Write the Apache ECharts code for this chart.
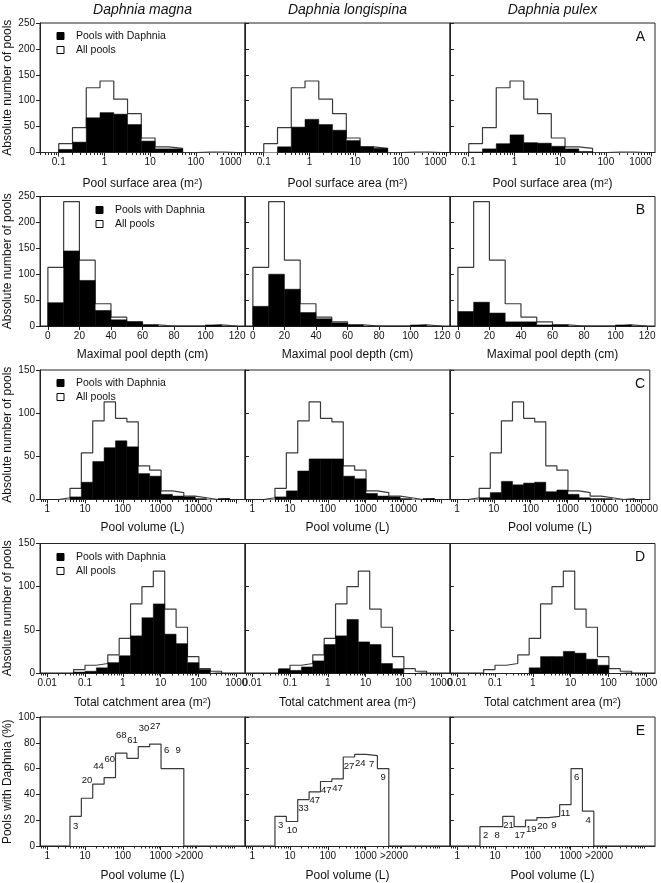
<!DOCTYPE html>
<html><head><meta charset="utf-8">
<script src="https://cdn.jsdelivr.net/npm/echarts@6/dist/echarts.min.js"></script>
<style>html,body{margin:0;padding:0;background:#fff}#c{width:661px;height:883px}</style>
</head><body><div id="c"></div><script>
// ---------------- DATA ----------------
const species = ['Daphnia magna', 'Daphnia longispina', 'Daphnia pulex'];
const panelLetters = ['A', 'B', 'C', 'D', 'E'];

// A: pool surface area (m2), doubling bins
const areaEdges = [0.05,0.1,0.2,0.4,0.8,1.6,3.2,6.4,12.8,25.6,51.2,102.4,204.8,409.6,819.2];
const areaAll        = [0,17,48,125,138,103,75,28,11,8,0,1,1,0];
const areaMagna      = [0,6,20,67,77,74,54,22,7,7,0,0,0,0];
const areaLongispina = [0,0,11,49,64,54,43,23,11,8,0,0,0,0];
const areaPulex      = [0,1,7,17,34,19,18,12,7,2,0,0,0,0];
const areaTicks = [0.1,1,10,100,1000];
const areaTickLabels = ['0.1','1','10','100','1000'];

// B: maximal pool depth (cm)
const depthEdges = [0,10,20,30,40,50,60,70,80,90,100,110,120];
const depthAll        = [113,240,127,43,17,8,2,0,0,0,2,0];
const depthMagna      = [45,145,88,30,12,8,2,0,0,0,2,0];
const depthLongispina = [38,100,71,26,14,6,2,0,0,0,2,0];
const depthPulex      = [28,46,25,8,8,2,2,0,0,0,2,0];
const depthTicks = [0,20,40,60,80,100,120];
const depthTickLabels = ['0','20','40','60','80','100','120'];

// C: pool volume (L)
const volEdges = [2,4,8,16,32,64,128,256,512,1024,2048,4096,8192,16384,32768,65536];
const volAll        = [2,13,54,91,113,94,90,39,34,10,8,4,2,0,1];
const volMagna      = [0,3,20,44,60,68,61,30,27,6,4,3,1,0,1];
const volLongispina = [0,3,10,33,47,47,47,27,24,7,4,3,1,0,1];
const volPulex      = [0,2,8,21,17,19,20,9,11,6,2,1,1,0,0];
const volTicks = [1,10,100,1000,10000,100000];
const volTickLabels = ['1','10','100','1000','10000','100000'];

// D: total catchment area (m2)
const catchEdges = [0.05,0.1,0.2,0.4,0.8,1.6,3.2,6.4,12.8,25.6,51.2,102.4,204.8,409.6];
const catchAll        = [4,9,11,21,40,80,100,118,74,53,19,5,2];
const catchMagna      = [1,2,6,12,20,43,64,80,45,34,12,4,0];
const catchLongispina = [5,3,7,14,33,43,62,36,33,11,5,0,0];
const catchPulex      = [0,0,0,0,6,19,19,25,23,16,9,0,0];
const catchTicks = [0.01,0.1,1,10,100,1000];
const catchTickLabels = ['0.01','0.1','1','10','100','1000'];

// E: % pools with Daphnia per volume class, and number of pools with Daphnia
const pctEdges = [4,8,16,32,64,128,256,512,1024,2048,4096];
const pctMagna      = [23,37,48,53,72,68,77,79,60,60];
const pctLongispina = [23,19,36,42,50,52,69,71,70,60];
const pctPulex      = [15,15,23,15,20,22,23,32,60,27];
const nMagna      = [3,20,44,60,68,61,30,27,6,9];
const nLongispina = [3,10,33,47,47,47,27,24,7,9];
const nPulex      = [2,8,21,17,19,20,9,11,6,4];
const pctTicks = [1,10,100,1000,5600];
const pctTickLabels = ['1','10','100','1000','>2000'];

// ---------------- LAYOUT ----------------
const FONT = '"Liberation Sans", Arial, Helvetica, sans-serif';
const colLeft = [40, 245, 450], colW = 205;
const rowTop = [23, 196.5, 370, 543.5, 717], rowH = 129.5;
const INK = '#111';
// vertical pixel offset of the count labels in row E, per column (negative = above the step)
const countLabelOffset = [[10,-18,-18,-18,-18,-18,-18,-18,-18,-18], [9,9,9,9,9,9,9,9,9,9], [9,9,9,9,9,9,9,9,9,9]];

const rowsCfg = [
  {edges: areaEdges, all: areaAll, sp: [areaMagna, areaLongispina, areaPulex], log: true,
   range: [-1.41, 3.075], ticks: areaTicks, labels: areaTickLabels, labelN: [5,5,5], majorTickN: 5, alignMax: 'right',
   ymax: 250, ystep: 50, xTitle: 'Pool surface area (m{sup|2})', nameGap: 25, yTitle: 'Absolute number of pools', legend: [57, 36]},
  {edges: depthEdges, all: depthAll, sp: [depthMagna, depthLongispina, depthPulex], log: false,
   range: [-5, 125], ticks: depthTicks, labels: depthTickLabels, labelN: [7,7,7], majorTickN: 7, alignMax: 'center',
   ymax: 250, ystep: 50, xTitle: 'Maximal pool depth (cm)', nameGap: 23, yTitle: 'Absolute number of pools', legend: [96, 210]},
  {edges: volEdges, all: volAll, sp: [volMagna, volLongispina, volPulex], log: true,
   range: [-0.19, 5.23], ticks: volTicks, labels: volTickLabels, labelN: [5,5,6], majorTickN: 6, alignMax: 'center',
   ymax: 150, ystep: 50, xTitle: 'Pool volume (L)', nameGap: 22, yTitle: 'Absolute number of pools', legend: [57, 383]},
  {edges: catchEdges, all: catchAll, sp: [catchMagna, catchLongispina, catchPulex], log: true,
   range: [-2.19, 3.23], ticks: catchTicks, labels: catchTickLabels, labelN: [6,6,6], majorTickN: 6, alignMax: 'center',
   ymax: 150, ystep: 50, xTitle: 'Total catchment area (m{sup|2})', nameGap: 24, yTitle: 'Absolute number of pools', legend: [57, 557]},
  {edges: pctEdges, all: null, sp: [pctMagna, pctLongispina, pctPulex], counts: [nMagna, nLongispina, nPulex], log: true,
   range: [-0.19, 5.23], ticks: pctTicks, labels: pctTickLabels, labelN: [5,5,5], majorTickN: 4, alignMax: 'center',
   ymax: 100, ystep: 20, xTitle: 'Pool volume (L)', nameGap: 24, yTitle: 'Pools with Daphnia (%)', legend: null}
];

const grids = [], xAxes = [], yAxes = [], series = [], graphics = [];
const tf = (row, v) => row.log ? Math.log10(v) : v;

function minorTicks(row) {
  if (!row.log) return [];
  const out = [];
  for (let d = Math.floor(row.range[0]); d <= Math.ceil(row.range[1]); d++) {
    for (let k = 2; k <= 9; k++) {
      const v = Math.log10(k) + d;
      if (v > row.range[0] && v < row.range[1]) out.push(v);
    }
  }
  return out;
}

function stepPoints(row, vals) {
  const e = row.edges.map(v => tf(row, v));
  const pts = [[e[0], 0]];
  vals.forEach((v, i) => pts.push([e[i], v]));
  pts.push([e[vals.length], vals[vals.length - 1]]);
  pts.push([e[vals.length], 0]);
  return pts;
}

const textStyleBase = {fontFamily: FONT, color: INK};

rowsCfg.forEach((row, r) => {
  for (let c = 0; c < 3; c++) {
    const gi = grids.length;
    grids.push({left: colLeft[c], top: rowTop[r], width: colW, height: rowH,
      show: true, borderColor: '#222', borderWidth: 1, backgroundColor: 'transparent'});
    const tv = row.ticks.map(v => tf(row, v));
    const labVals = tv.slice(0, row.labelN[c]);
    const tickVals = tv.slice(0, row.majorTickN);
    const fmt = (v) => {
      const i = tv.findIndex(t => Math.abs(t - v) < 1e-6);
      return i >= 0 ? row.labels[i] : '';
    };
    const xiMajor = xAxes.length;
    xAxes.push({gridIndex: gi, type: 'value', min: row.range[0], max: row.range[1], position: 'bottom',
      axisLine: {show: true, onZero: false, lineStyle: {color: '#222', width: 1}},
      axisTick: {show: true, customValues: tickVals, length: 4, lineStyle: {color: '#222', width: 1}},
      axisLabel: {show: true, customValues: labVals, formatter: fmt, fontSize: 10, margin: 5, ...textStyleBase,
                  showMinLabel: true, showMaxLabel: true, hideOverlap: false, alignMaxLabel: row.alignMax},
      splitLine: {show: false},
      name: row.xTitle, nameLocation: 'middle', nameGap: row.nameGap,
      nameTextStyle: {fontSize: 12, ...textStyleBase, rich: {sup: {fontSize: 8, verticalAlign: 'top', fontFamily: FONT, color: INK}}}
    });
    const mt = minorTicks(row);
    if (mt.length) {
      xAxes.push({gridIndex: gi, type: 'value', min: row.range[0], max: row.range[1], position: 'bottom',
        axisLine: {show: false, onZero: false}, axisLabel: {show: false}, splitLine: {show: false},
        axisTick: {show: true, customValues: mt, length: 2.5, lineStyle: {color: '#222', width: 1}}});
    }
    const yi = yAxes.length;
    yAxes.push({gridIndex: gi, type: 'value', min: 0, max: row.ymax, interval: row.ystep, position: 'left',
      axisLine: {show: true, onZero: false, lineStyle: {color: '#222', width: 1}},
      axisTick: {show: true, inside: c > 0, length: 4, lineStyle: {color: '#222', width: 1}},
      axisLabel: {show: c === 0, fontSize: 10, margin: 5, ...textStyleBase},
      splitLine: {show: false}});

    // outline histogram (All pools, or % for row E)
    const outlineVals = row.all ? row.all : row.sp[c];
    series.push({type: 'line', xAxisIndex: xiMajor, yAxisIndex: yi, data: stepPoints(row, outlineVals),
      step: 'end', symbol: 'none', silent: true, animation: false, z: 2,
      lineStyle: {color: '#3a3a3a', width: 1.2}, areaStyle: {color: '#fff', opacity: 1}});

    if (row.all) {
      const vals = row.sp[c];
      const bars = [];
      vals.forEach((v, i) => { if (v > 0) bars.push([tf(row, row.edges[i]), tf(row, row.edges[i + 1]), v]); });
      series.push({type: 'custom', xAxisIndex: xiMajor, yAxisIndex: yi, data: bars, encode: {x: [0, 1], y: 2},
        silent: true, animation: false, z: 3,
        renderItem: (params, api) => {
          const p0 = api.coord([api.value(0), api.value(2)]);
          const p1 = api.coord([api.value(1), 0]);
          return {type: 'rect', shape: {x: p0[0], y: p0[1], width: p1[0] - p0[0], height: p1[1] - p0[1]},
                  style: {fill: '#000', stroke: '#000', lineWidth: 0.5}};
        }});
    } else {
      const vals = row.sp[c], ns = row.counts[c], offs = countLabelOffset[c];
      const labs = vals.map((v, i) => [(tf(row, row.edges[i]) + tf(row, row.edges[i + 1])) / 2, v, ns[i]]);
      series.push({type: 'custom', xAxisIndex: xiMajor, yAxisIndex: yi, data: labs, encode: {x: 0, y: 1},
        silent: true, animation: false, z: 4,
        renderItem: (params, api) => {
          const p = api.coord([api.value(0), api.value(1)]);
          return {type: 'text', x: p[0], y: p[1] + offs[params.dataIndex],
            style: {text: String(api.value(2)), font: '9.5px ' + FONT, fill: INK,
                    align: 'center', verticalAlign: 'middle', textAlign: 'center', textVerticalAlign: 'middle'}};
        }});
    }
  }
  // y-axis title (left of first column)
  graphics.push({type: 'text', x: 8, y: rowTop[r] + rowH / 2, rotation: Math.PI / 2,
    style: {text: row.yTitle, font: '12px ' + FONT, fill: INK,
      align: 'center', verticalAlign: 'middle', textAlign: 'center', textVerticalAlign: 'middle'}});
  // legend (first column)
  if (row.legend) {
    const [lx, ly] = row.legend;
    graphics.push({type: 'rect', shape: {x: lx, y: ly - 3.5, width: 7, height: 7}, style: {fill: '#000', stroke: '#000', lineWidth: 1}});
    graphics.push({type: 'rect', shape: {x: lx, y: ly + 14 - 3.5, width: 7, height: 7}, style: {fill: '#fff', stroke: '#000', lineWidth: 1}});
    graphics.push({type: 'text', x: lx + 19, y: ly, style: {text: 'Pools with Daphnia', font: '10.5px ' + FONT, fill: INK,
      align: 'left', verticalAlign: 'middle', textAlign: 'left', textVerticalAlign: 'middle'}});
    graphics.push({type: 'text', x: lx + 19, y: ly + 14, style: {text: 'All pools', font: '10.5px ' + FONT, fill: INK,
      align: 'left', verticalAlign: 'middle', textAlign: 'left', textVerticalAlign: 'middle'}});
  }
  // panel letter
  graphics.push({type: 'text', x: 645, y: rowTop[r] + 14, style: {text: panelLetters[r], font: '14px ' + FONT, fill: INK,
    align: 'right', verticalAlign: 'middle', textAlign: 'right', textVerticalAlign: 'middle'}});
});

species.forEach((s, c) => {
  graphics.push({type: 'text', x: colLeft[c] + colW / 2, y: 10, style: {text: s, font: 'italic 14px ' + FONT, fill: INK,
    align: 'center', verticalAlign: 'middle', textAlign: 'center', textVerticalAlign: 'middle'}});
});

const chart = echarts.init(document.getElementById('c'), null, {renderer: 'canvas', width: 661, height: 883});
chart.setOption({
  animation: false,
  backgroundColor: '#fff',
  grid: grids, xAxis: xAxes, yAxis: yAxes, series: series,
  graphic: {elements: graphics}
});
</script></body></html>
